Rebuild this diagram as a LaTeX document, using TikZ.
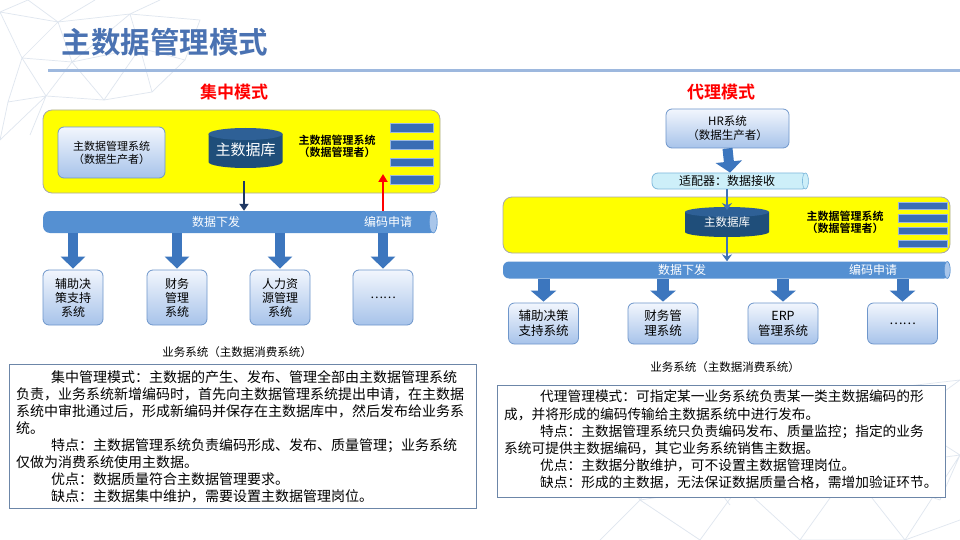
\documentclass[tikz,border=0pt]{standalone}
\usepackage{fontspec}
\setmainfont{Noto Sans CJK SC}[BoldFont={Noto Sans CJK SC Bold}]
\usetikzlibrary{arrows.meta,positioning}
\newcommand\fsz[2]{\fontsize{#1}{#2}\selectfont}
\definecolor{titleblue}{HTML}{4A72B2}
\definecolor{rulecol}{HTML}{9DB8DE}
\definecolor{ylw}{HTML}{FFFF00}
\definecolor{ylwedge}{HTML}{A8A8A8}
\definecolor{dbbody}{HTML}{1F4E7A}
\definecolor{dbtopc}{HTML}{2E6096}
\definecolor{pipecol}{HTML}{5590D2}
\definecolor{pipeendc}{HTML}{A9C6EA}
\definecolor{fatcol}{HTML}{3C76BE}
\definecolor{navy}{HTML}{1F3864}
\definecolor{thinblue}{HTML}{3F72B6}
\definecolor{boxtop}{HTML}{F2F6FD}
\definecolor{boxbot}{HTML}{A7C3EA}
\definecolor{boxedge}{HTML}{6E96CB}
\definecolor{btnfill}{HTML}{3A6DB5}
\definecolor{btnedge}{HTML}{9DB8E0}
\definecolor{adpfill}{HTML}{CDEFF9}
\definecolor{adpedge}{HTML}{7FB9DC}
\definecolor{descedge}{HTML}{6C86A8}
\definecolor{netcol}{HTML}{DFE6EF}
\newcommand\dbcyl[5]{%
  \fill[dbbody] ({#1-#3/2},{#2-#4/2}) -- ({#1-#3/2},{#2+#4/2})
    arc[start angle=180,end angle=0,x radius={#3/2},y radius=#5] -- ({#1+#3/2},{#2-#4/2}) -- cycle;
  \fill[dbtopc] (#1,{#2-#4/2}) ellipse[x radius={#3/2},y radius=#5];}
\begin{document}
\begin{tikzpicture}[x=1pt,y=-1pt,
  ybox/.style={draw=ylwedge,line width=0.8,fill=ylw,rounded corners=9,inner sep=0},
  sysbox/.style={draw=boxedge,line width=0.8,rounded corners=6,top color=boxtop,bottom color=boxbot,align=center,inner sep=0,font=\fsz{12}{14}},
  pipe/.style={fill=pipecol,rounded corners=7,inner sep=0},
  pipeend/.style={fill=pipeendc,draw=pipecol,line width=0.6},
  bartext/.style={text=white,font=\fsz{12}{14}},
  btn/.style={fill=btnfill,draw=btnedge,line width=0.6,inner sep=0},
  fatarrow/.style={draw=fatcol,line width=10,-{Triangle[width=24pt,length=12pt]}},
  mgrtext/.style={font=\bfseries\fsz{11}{12},align=center},
  caption/.style={font=\fsz{11.5}{13}},
  modehead/.style={text=red,font=\bfseries\fsz{17}{20}},
  descbox/.style={draw=descedge,line width=0.8,inner sep=0},
  desctext/.style={align=left,inner sep=0,anchor=north west},
  net/.style={draw=netcol,line width=0.7}]
\useasboundingbox (0,0) rectangle (960,540);
\fill[white] (0,0) rectangle (960,540);
% faint background network
\draw[net] (0,12) -- (28,0) (0,12) -- (58,22) -- (95,0) (28,0) -- (58,22) -- (130,14) -- (160,0)
  (58,22) -- (22,58) -- (0,12) (22,58) -- (72,62) -- (58,22) (72,62) -- (130,14) (72,62) -- (140,48) -- (130,14)
  (22,58) -- (8,102) -- (46,96) -- (22,58) (46,96) -- (72,62) -- (104,100) -- (46,96) (104,100) -- (140,48) -- (152,92) -- (104,100)
  (0,140) -- (8,102) (0,140) -- (46,96) (46,96) -- (30,135) (152,92) -- (185,60) -- (140,48) (185,60) -- (200,20) -- (130,14);
\draw[net] (960,380) -- (905,420) -- (960,455) (905,420) -- (850,470) -- (960,455) (850,470) -- (905,540) -- (960,455)
  (850,470) -- (790,430) -- (905,420) (790,430) -- (740,485) -- (850,470) (740,485) -- (800,540) -- (850,470)
  (740,485) -- (680,440) -- (790,430) (680,440) -- (640,500) -- (740,485) (640,500) -- (700,540) -- (740,485)
  (640,500) -- (600,540) (680,440) -- (620,470) -- (640,500) (905,540) -- (800,540) (960,520) -- (905,540)
  (790,430) -- (830,395) -- (905,420) (830,395) -- (960,380) (680,440) -- (730,505) (940,500) -- (850,470) (940,500) -- (960,455);
% title
\node[text=titleblue,font=\bfseries\fsz{29.5}{31},anchor=west] (title) at (58,42) {主数据管理模式};
\draw[rulecol,line width=3] (48,71) -- (960,71);
\node[modehead] (headL) at (234,92) {集中模式};
\node[modehead] (headR) at (721,92) {代理模式};
% ================= left =================
\node[ybox,minimum width=397,minimum height=83] (yL) at (241.5,151.5) {};
\node[sysbox,minimum width=107,minimum height=51,font=\fsz{11}{13}] (prodL) at (111.5,152.5) {主数据管理系统\\（数据生产者）};
\dbcyl{245.5}{148}{74}{28}{6}
\node[text=white,font=\fsz{15}{16}] (cylL) at (245.5,150) {主数据库};
\node[mgrtext] (mgrL) at (337,146) {主数据管理系统\\（数据管理者）};
\foreach \i/\yy in {1/128,2/145,3/162.5,4/180}
  \node[btn,minimum width=43,minimum height=8.5] (bL\i) at (411.5,\yy) {};
\node[pipe,minimum width=394,minimum height=22] (barL) at (240,222) {};
\draw[pipeend] ([xshift=-4]barL.east) ellipse[x radius=4,y radius=11];
\node[bartext] (sendL) at (216,222) {数据下发};
\node[bartext] (reqL) at (388,222) {编码申请};
\coordinate (dnL) at (244,181);
\draw[navy,line width=2.5,-{Triangle[width=9pt,length=7pt]}] (dnL) -- (dnL |- barL.north);
\coordinate (upL) at (383,174);
\draw[red,line width=2.5,-{Triangle[width=9pt,length=8pt]}] (upL |- barL.north) -- (upL);
\node[sysbox,minimum width=60,minimum height=55] (sL1) at (73,297.5) {辅助决\\策支持\\系统};
\node[sysbox,minimum width=60,minimum height=55] (sL2) at (177,297.5) {财务\\管理\\系统};
\node[sysbox,minimum width=60,minimum height=55] (sL3) at (280,297.5) {人力资\\源管理\\系统};
\node[sysbox,minimum width=60,minimum height=55] (sL4) at (383,297.5) {……};
\foreach \i in {1,2,3,4}
  \draw[fatarrow,shorten >=1] (barL.south -| sL\i.north) -- (sL\i.north);
\node[caption] (capL) at (237,352) {业务系统（主数据消费系统）};
% description left
\node[descbox,fill=white,minimum width=467,minimum height=144,anchor=north west] (descL) at (9,364) {};
\node[desctext,font=\fsz{14}{17}] (dtL) at (16,370) {%
\hspace*{35pt}集中管理模式：主数据的产生、发布、管理全部由主数据管理系统\\
负责，业务系统新增编码时，首先向主数据管理系统提出申请，在主数据\\
系统中审批通过后，形成新编码并保存在主数据库中，然后发布给业务系\\
统。\\
\hspace*{35pt}特点：主数据管理系统负责编码形成、发布、质量管理；业务系统\\
仅做为消费系统使用主数据。\\
\hspace*{35pt}优点：数据质量符合主数据管理要求。\\
\hspace*{35pt}缺点：主数据集中维护，需要设置主数据管理岗位。};
% ================= right =================
\node[sysbox,minimum width=123,minimum height=39,font=\fsz{11.5}{14}] (hr) at (727.5,128.5) {HR系统\\（数据生产者）};
\node[draw=adpedge,fill=adpfill,line width=0.8,rounded corners=6,minimum width=156,minimum height=16,inner sep=0] (adp) at (730,181) {};
\draw[fill=adpfill,draw=adpedge,line width=0.6] ([xshift=-3]adp.east) ellipse[x radius=3,y radius=8];
\node[font=\fsz{12}{14}] (adpt) at (727,181) {适配器：数据接收};
\draw[fatarrow,-{Triangle[width=26pt,length=11pt]}] (hr.south) -- (adp.north);
\node[ybox,minimum width=447,minimum height=56] (yR) at (726.5,225) {};
\dbcyl{727}{222}{84}{20}{5}
\node[text=white,font=\fsz{11.5}{13}] (cylR) at (727,222) {主数据库};
\node[mgrtext] (mgrR) at (845,222) {主数据管理系统\\（数据管理者）};
\foreach \i/\yy in {1/206,2/218.5,3/231,4/244}
  \node[btn,minimum width=49,minimum height=7.5] (bR\i) at (922.5,\yy) {};
\node[pipe,minimum width=447,minimum height=17,rounded corners=6] (barR) at (726.5,270) {};
\draw[pipeend] ([xshift=-3]barR.east) ellipse[x radius=3,y radius=8.5];
\node[bartext] (sendR) at (682,270) {数据下发};
\node[bartext] (reqR) at (873,270) {编码申请};
\coordinate (topR) at (727,210);
\coordinate (botR) at (727,237);
\draw[thinblue,line width=2.2,-{Stealth[width=10pt,length=7pt]}] (adp.south -| topR) -- (topR);
\draw[thinblue,line width=2.2,-{Stealth[width=10pt,length=7pt]}] (botR) -- (barR.north -| botR);
\node[sysbox,minimum width=70,minimum height=41,font=\fsz{12.5}{15}] (sR1) at (543.5,323.5) {辅助决策\\支持系统};
\node[sysbox,minimum width=70,minimum height=41,font=\fsz{12.5}{15}] (sR2) at (663,323.5) {财务管\\理系统};
\node[sysbox,minimum width=70,minimum height=41,font=\fsz{12.5}{15}] (sR3) at (783,323.5) {ERP\\管理系统};
\node[sysbox,minimum width=70,minimum height=41,font=\fsz{12.5}{15}] (sR4) at (902.5,323.5) {……};
\foreach \i in {1,2,3,4}
  \draw[fatarrow,line width=12,-{Triangle[width=25pt,length=11pt]},shorten >=1] (barR.south -| sR\i.north) -- (sR\i.north);
\node[caption] (capR) at (725,367) {业务系统（主数据消费系统）};
% description right
\node[descbox,fill=white,minimum width=448,minimum height=112,anchor=north west] (descR) at (497,385) {};
\node[desctext,font=\fsz{13.7}{17.2}] (dtR) at (504,390) {%
\hspace*{36pt}代理管理模式：可指定某一业务系统负责某一类主数据编码的形\\
成，并将形成的编码传输给主数据系统中进行发布。\\
\hspace*{36pt}特点：主数据管理系统只负责编码发布、质量监控；指定的业务\\
系统可提供主数据编码，其它业务系统销售主数据。\\
\hspace*{36pt}优点：主数据分散维护，可不设置主数据管理岗位。\\
\hspace*{36pt}缺点：形成的主数据，无法保证数据质量合格，需增加验证环节。};
\end{tikzpicture}
\end{document}
